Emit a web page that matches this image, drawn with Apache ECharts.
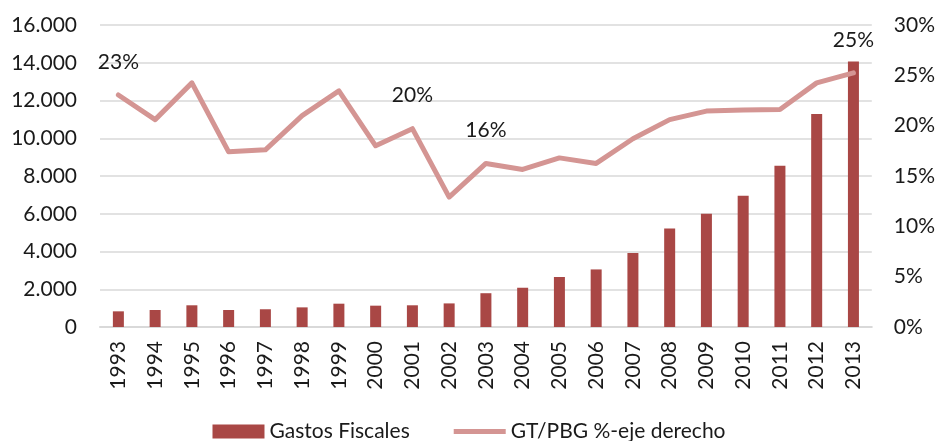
<!DOCTYPE html>
<html>
<head>
<meta charset="utf-8">
<script src="https://cdn.jsdelivr.net/npm/echarts@6/dist/echarts.min.js"></script>
<style>
  html, body { margin: 0; padding: 0; background: #fff; }
  #chart { width: 938px; height: 441px; }
</style>
</head>
<body>
<div id="chart"></div>
<script>
// años
var years = ['1993', '1994', '1995', '1996', '1997', '1998', '1999', '2000', '2001', '2002', '2003',
    '2004', '2005', '2006', '2007', '2008', '2009', '2010', '2011', '2012', '2013'];

// Gastos Fiscales (eje izquierdo)
var gastos = [830, 900, 1150, 900, 940, 1040, 1235, 1130, 1150, 1250, 1790,
    2080, 2650, 3050, 3920, 5220, 6000, 6950, 8540, 11290, 14060];

// GT/PBG % (eje derecho)
var ratio = [23.05, 20.6, 24.25, 17.4, 17.6, 21.0, 23.45, 18.0, 19.7, 12.9, 16.25,
    15.65, 16.8, 16.25, 18.7, 20.6, 21.45, 21.55, 21.6, 24.25, 25.25];

// puntos con etiqueta
var labeled = [0, 8, 10, 20];

var fontFam = 'Lato, "Open Sans", sans-serif';
var txtColor = '#1a1a1a';
var fs = 21;

document.addEventListener("DOMContentLoaded", function () {
    var chart = echarts.init(document.getElementById('chart'));

    var lineData = ratio.map(function (v, i) {
        if (labeled.indexOf(i) >= 0) {
            return { value: v, label: { show: true } };
        }
        return v;
    });

    var option = {
        animation: false,
        textStyle: { fontFamily: fontFam },
        grid: { left: 100, right: 65, top: 25, bottom: 114 },
        legend: {
            top: 416,
            left: 'center',
            itemWidth: 52,
            itemHeight: 14,
            itemGap: 44,
            textStyle: { fontSize: fs, color: txtColor, fontFamily: fontFam },
            data: [
                { name: 'Gastos Fiscales', icon: 'rect' },
                {
                    name: 'GT/PBG %-eje derecho',
                    icon: 'path://M0,0 L52,0 L52,5 L0,5 Z',
                    itemStyle: { color: '#d49593', borderWidth: 0 }
                }
            ]
        },
        xAxis: {
            type: 'category',
            data: years,
            axisTick: { show: false },
            axisLine: { lineStyle: { color: '#d9d9d9', width: 2 } },
            axisLabel: {
                rotate: 90,
                margin: 14,
                fontSize: fs,
                color: txtColor,
                interval: 0
            }
        },
        yAxis: [
            {
                type: 'value',
                min: 0,
                max: 16000,
                interval: 2000,
                axisLine: { show: false },
                axisTick: { show: false },
                splitLine: { lineStyle: { color: '#d9d9d9', width: 1.5 } },
                axisLabel: {
                    margin: 23,
                    fontSize: fs,
                    color: txtColor,
                    formatter: function (v) {
                        return v.toString().replace(/\B(?=(\d{3})+(?!\d))/g, '.');
                    }
                }
            },
            {
                type: 'value',
                min: 0,
                max: 30,
                interval: 5,
                axisLine: { show: false },
                axisTick: { show: false },
                splitLine: { show: false },
                axisLabel: {
                    margin: 22,
                    fontSize: fs,
                    color: txtColor,
                    formatter: '{value}%'
                }
            }
        ],
        series: [
            {
                name: 'Gastos Fiscales',
                type: 'bar',
                data: gastos,
                barWidth: 11,
                itemStyle: { color: '#a94745' }
            },
            {
                name: 'GT/PBG %-eje derecho',
                type: 'line',
                yAxisIndex: 1,
                data: lineData,
                symbol: 'circle',
                symbolSize: 1,
                itemStyle: { color: '#d49593' },
                lineStyle: { color: '#d49593', width: 5, cap: 'round', join: 'round' },
                label: {
                    show: false,
                    position: 'top',
                    distance: 22,
                    fontSize: fs,
                    color: txtColor,
                    formatter: function (p) {
                        return Math.round(p.value) + '%';
                    }
                },
                z: 3
            }
        ]
    };
    chart.setOption(option);

    window.addEventListener('resize', function () {
        chart.resize();
    });
});
</script>
</body>
</html>
